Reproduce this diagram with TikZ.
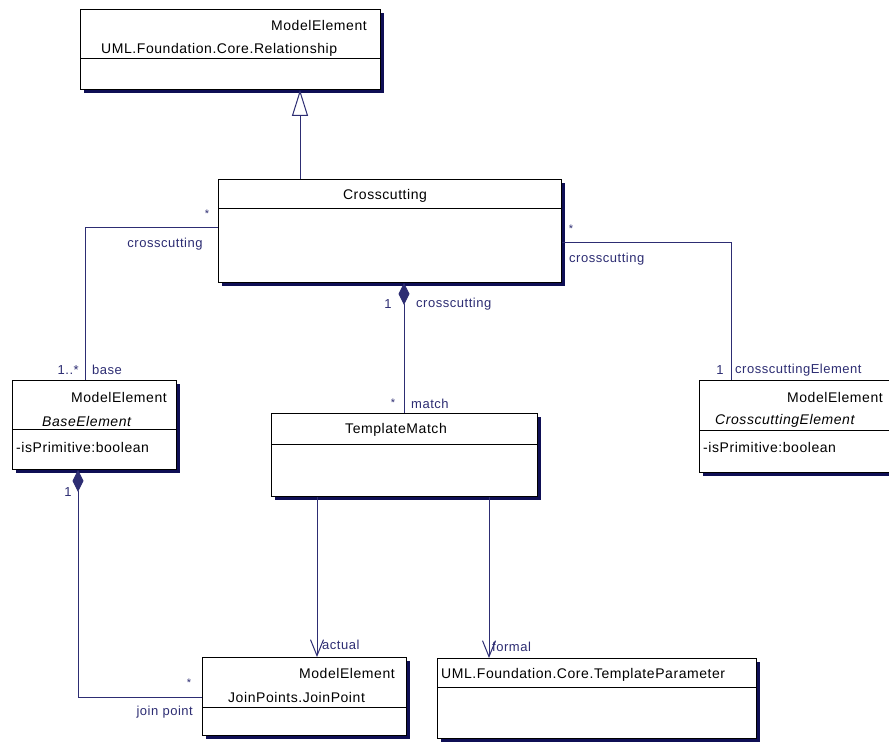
\documentclass[tikz,border=0pt]{standalone}
\usepackage{fontspec}
\setmainfont{Liberation Sans}[LetterSpace=4]
\usetikzlibrary{arrows.meta,shadows}
\definecolor{umlblue}{RGB}{45,45,115}
\definecolor{shadowc}{RGB}{15,15,85}
\begin{document}
\begin{tikzpicture}[x=1pt,y=-1pt,
  umlbox/.style={draw=black, line width=0.9pt, fill=white, rectangle, inner sep=0pt, anchor=north west,
    drop shadow={shadow xshift=4pt, shadow yshift=-4pt, fill=shadowc, opacity=1}},
  boxtext/.style={font=\fontsize{14}{16}\selectfont, inner sep=0pt, text=black},
  lbl/.style={font=\fontsize{13}{15}\selectfont, inner sep=0pt, text=umlblue},
  mult/.style={font=\fontsize{11}{13}\selectfont, inner sep=0pt, text=umlblue},
  assoc/.style={draw=umlblue, line width=1pt},
  divider/.style={draw=black, line width=0.9pt},
  comp/.style={assoc, {Diamond[length=22pt,width=11pt,fill=umlblue]}-},
  navig/.style={assoc, -{Straight Barb[length=16pt,width=13pt,line width=1pt]}},
  gen/.style={assoc, -{Triangle[open,length=26pt,width=16pt,fill=white]}}
]
\clip (0,0) rectangle (889,742);
\fill[white] (0,0) rectangle (889,742);

% boxes
\node[umlbox, minimum width=300pt, minimum height=80pt] (rel) at (80,9) {};
\node[umlbox, minimum width=343pt, minimum height=103pt] (cross) at (218,179) {};
\node[umlbox, minimum width=164pt, minimum height=89pt] (base) at (12,380) {};
\node[umlbox, minimum width=200pt, minimum height=92pt] (ce) at (699,380) {};
\node[umlbox, minimum width=266pt, minimum height=83pt] (tm) at (271,413) {};
\node[umlbox, minimum width=204pt, minimum height=78pt] (jp) at (202,657) {};
\node[umlbox, minimum width=319pt, minimum height=80pt] (tp) at (437,658) {};

% dividers
\draw[divider] (rel.west |- 0,58) -- (rel.east |- 0,58);
\draw[divider] (cross.west |- 0,208) -- (cross.east |- 0,208);
\draw[divider] (base.west |- 0,429) -- (base.east |- 0,429);
\draw[divider] (ce.west |- 0,430) -- (ce.east |- 0,430);
\draw[divider] (tm.west |- 0,444) -- (tm.east |- 0,444);
\draw[divider] (jp.west |- 0,707) -- (jp.east |- 0,707);
\draw[divider] (tp.west |- 0,687) -- (tp.east |- 0,687);

% box texts
\node[boxtext, anchor=east] (t1) at (367,25) {ModelElement};
\node[boxtext, anchor=west] (t2) at (101,50) {UML.Foundation.Core.Relationship};
\node[boxtext] (t3) at (385,196) {Crosscutting};
\node[boxtext, anchor=east] (t4) at (167,397) {ModelElement};
\node[boxtext, anchor=west] (t5) at (42,421) {\itshape BaseElement};
\node[boxtext, anchor=west] (t6) at (16,447) {-isPrimitive:boolean};
\node[boxtext, anchor=east] (t7) at (883,397) {ModelElement};
\node[boxtext, anchor=west] (t8) at (715,421) {\itshape CrosscuttingElement};
\node[boxtext, anchor=west] (t9) at (703,447) {-isPrimitive:boolean};
\node[boxtext] (t10) at (396,430) {TemplateMatch};
\node[boxtext, anchor=east] (t11) at (395,673) {ModelElement};
\node[boxtext, anchor=west] (t12) at (228,697) {JoinPoints.JoinPoint};
\node[boxtext, anchor=west] (t13) at (441,675) {UML.Foundation.Core.TemplateParameter};

% connectors
\draw[gen] (cross.north -| 300,0) -- (rel.south -| 300,0);
\draw[assoc] (cross.west |- 0,227) -| (base.north -| 85,0);
\draw[assoc] (cross.east |- 0,242) -| (ce.north -| 731,0);
\draw[comp] (cross.south -| 404,0) -- (tm.north -| 404,0);
\draw[comp] (base.south -| 78,0) |- (jp.west |- 0,697);
\draw[navig] (tm.south -| 317,0) -- (jp.north -| 317,0);
\draw[navig] (tm.south -| 489,0) -- (tp.north -| 489,0);

% labels
\node[mult] (m1) at (207,214) {*};
\node[lbl] (a1) at (165,244) {crosscutting};
\node[lbl, anchor=east] (m2) at (79,370) {1..*};
\node[lbl, anchor=west] (a2) at (92,370) {base};
\node[mult] (m3) at (571,229) {*};
\node[lbl, anchor=west] (a3) at (569,259) {crosscutting};
\node[lbl] (m4) at (720,370) {1};
\node[lbl, anchor=west] (a4) at (735,370) {crosscuttingElement};
\node[lbl] (m5) at (388,304) {1};
\node[lbl, anchor=west] (a5) at (416,304) {crosscutting};
\node[mult] (m6) at (393,403) {*};
\node[lbl, anchor=west] (a6) at (411,404) {match};
\node[lbl] (m7) at (68,492) {1};
\node[mult] (m8) at (189,683) {*};
\node[lbl, anchor=east] (a7) at (193,712) {join point};
\node[lbl, anchor=west] (a8) at (322,645) {actual};
\node[lbl, anchor=west] (a9) at (492,647) {formal};
\end{tikzpicture}
\end{document}
